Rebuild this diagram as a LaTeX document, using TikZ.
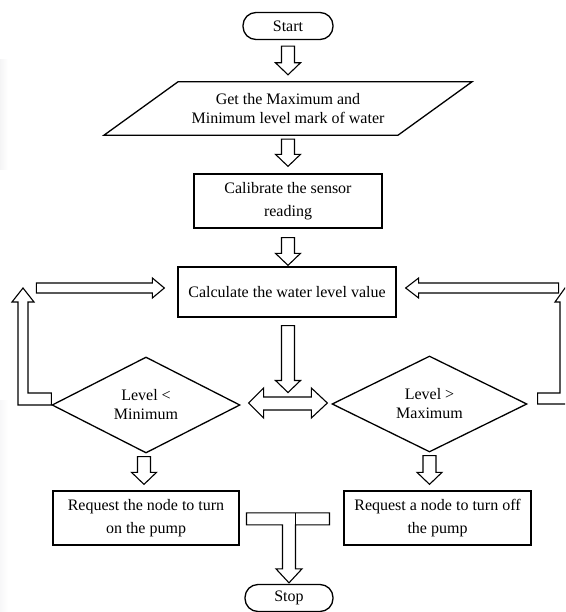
\documentclass[tikz,border=0pt]{standalone}
\usepackage{fontspec}
\setmainfont{Liberation Serif}
\usetikzlibrary{shapes.geometric,calc}

% hollow block arrow pointing down: #1 = top centre of the shaft, #2 = tip
\newcommand{\vblock}[2]{%
  \draw[blockarrow] let \p1=#1, \p2=#2 in
    (\x1-6.5pt,\y1) -- (\x1+6.5pt,\y1) -- (\x1+6.5pt,\y2+12pt) --
    (\x1+12.5pt,\y2+12pt) -- (\x1,\y2) -- (\x1-12.5pt,\y2+12pt) --
    (\x1-6.5pt,\y2+12pt) -- cycle;}

\begin{document}
\begin{tikzpicture}[x=1pt,y=-1pt,
  every node/.style={font=\fontsize{16}{20}\selectfont, align=center, inner sep=0pt},
  flow/.style={draw=black, line width=1.3pt},
  terminal/.style={flow, rounded corners=13pt, minimum width=90pt, minimum height=27pt},
  procbox/.style={flow, rectangle, font=\fontsize{16}{22.5}\selectfont},
  decision/.style={flow, diamond, aspect=2, font=\fontsize{16}{19}\selectfont},
  blockarrow/.style={draw=black, line width=1.1pt, fill=white, line join=miter}]

\useasboundingbox (0,0) rectangle (565,612);
\clip (0,0) rectangle (565,612);

% faint tint along the left margin
\shade[left color=blue!5!gray!8, right color=white] (0,60) rectangle (8,170);
\shade[left color=blue!8!gray!6, right color=white] (0,400) rectangle (8,612);

% ---- nodes ----
\node[terminal] (start) at (288,26) {Start};

\node[minimum width=220pt, minimum height=53pt, font=\fontsize{16}{19}\selectfont]
  (par) at (288,108.5) {Get the Maximum and\\Minimum level mark of water};
\draw[flow, line join=miter]
  ($(par.north)+(-110,0)$) -- ($(par.north)+(184,0)$) --
  ($(par.south)+(110,0)$) -- ($(par.south)+(-184,0)$) -- cycle;

\node[procbox, minimum width=188pt, minimum height=54pt] (calib) at (288,201)
  {Calibrate the sensor\\reading};
\node[procbox, minimum width=218pt, minimum height=50pt] (calc) at (287,292)
  {Calculate the water level value};

\node[decision, minimum width=188pt, minimum height=96pt] (dleft) at (146,405)
  {Level <\\Minimum};
\node[decision, minimum width=195pt, minimum height=96pt] (dright) at (429.5,404)
  {Level >\\Maximum};

\node[procbox, minimum width=186pt, minimum height=54pt] (reqL) at (146,518)
  {Request the node to turn\\on the pump};
\node[procbox, minimum width=187pt, minimum height=54pt] (reqR) at (437.5,518)
  {Request a node to turn off\\the pump};

\node[terminal, minimum width=88pt] (stop) at (289,598) {Stop};

% ---- straight block arrows ----
\vblock{($(start.south)+(0,6)$)}{($(par.north)+(0,-7)$)}
\vblock{($(par.south)+(0,4)$)}{($(calib.north)+(0,-7)$)}
\vblock{($(calib.south)+(0,9)$)}{($(calc.north)+(0,-1)$)}
\vblock{($(calc.south)+(1,8)$)}{($(dleft.east)!0.5!(dright.west)+(0,-12)$)}
\vblock{($(dleft.south)+(-2,3)$)}{($(reqL.north)+(-2,-6)$)}
\vblock{($(dright.south)+(0,3)$)}{($(reqR.north)+(-7,-6)$)}

% two-headed arrow between the decisions
\coordinate (dl) at ($(dleft.east)+(8,-2)$);
\coordinate (dr) at ($(dright.west)+(-4,-1)$);
\draw[blockarrow] let \p1=(dl), \p2=(dr) in
  (\p1) -- (\x1+15pt,\y1+15pt) -- (\x1+15pt,\y1+6pt) -- (\x2-16pt,\y1+6pt) --
  (\x2-16pt,\y1+15pt) -- (\x2,\y1) -- (\x2-16pt,\y1-15pt) -- (\x2-16pt,\y1-7pt) --
  (\x1+15pt,\y1-7pt) -- (\x1+15pt,\y1-15pt) -- cycle;

% ---- loop back on the left ----
\coordinate (ltip) at (23,288);
\draw[blockarrow] (dleft.west) -- ++(0,-12) -| ($(ltip)+(5,14)$) -- ++(6,0) --
  (ltip) -- ++(-11,14) -- ++(6,0) |- (dleft.west) -- cycle;
\coordinate (htip) at ($(calc.west|-ltip)+(-13,0)$);
\draw[blockarrow] (htip) -- ++(-12,-10) -- ++(0,5) -- ++(-116,0) -- ++(0,10) --
  ++(116,0) -- ++(0,5) -- cycle;

% ---- loop back on the right ----
\coordinate (rtip) at ($(calc.east|-ltip)+(9,0)$);
\draw[blockarrow] (rtip) -- ++(13,-10) -- ++(0,5) -- ++(140,0) -- ++(0,10) --
  ++(-140,0) -- ++(0,5) -- cycle;
\coordinate (rtop) at (565,288);
\coordinate (rstart) at ($(dright.east)+(10,0)$);
\draw[blockarrow] (rstart) -- ++(0,-11) -| ($(rtop)+(-5,14)$) -- ++(-5,0) --
  (rtop) -- ++(10,14) -- ++(-5,0) |- (rstart) -- cycle;

% ---- merge into Stop ----
\coordinate (mtip) at ($(stop.north)+(0,-1)$);
\draw[blockarrow] (mtip) -- ++(13,-14) -- ++(-6.5,0) -- ++(0,-44) -- ++(34,0) --
  ++(0,-12) -- ++(-83,0) -- ++(0,12) -- ++(36,0) -- ++(0,44) -- ++(-6.5,0) -- cycle;
\draw[line width=1.1pt] ($(mtip)+(6.5,-70)$) -- ($(mtip)+(6.5,-58)$);

\end{tikzpicture}
\end{document}
